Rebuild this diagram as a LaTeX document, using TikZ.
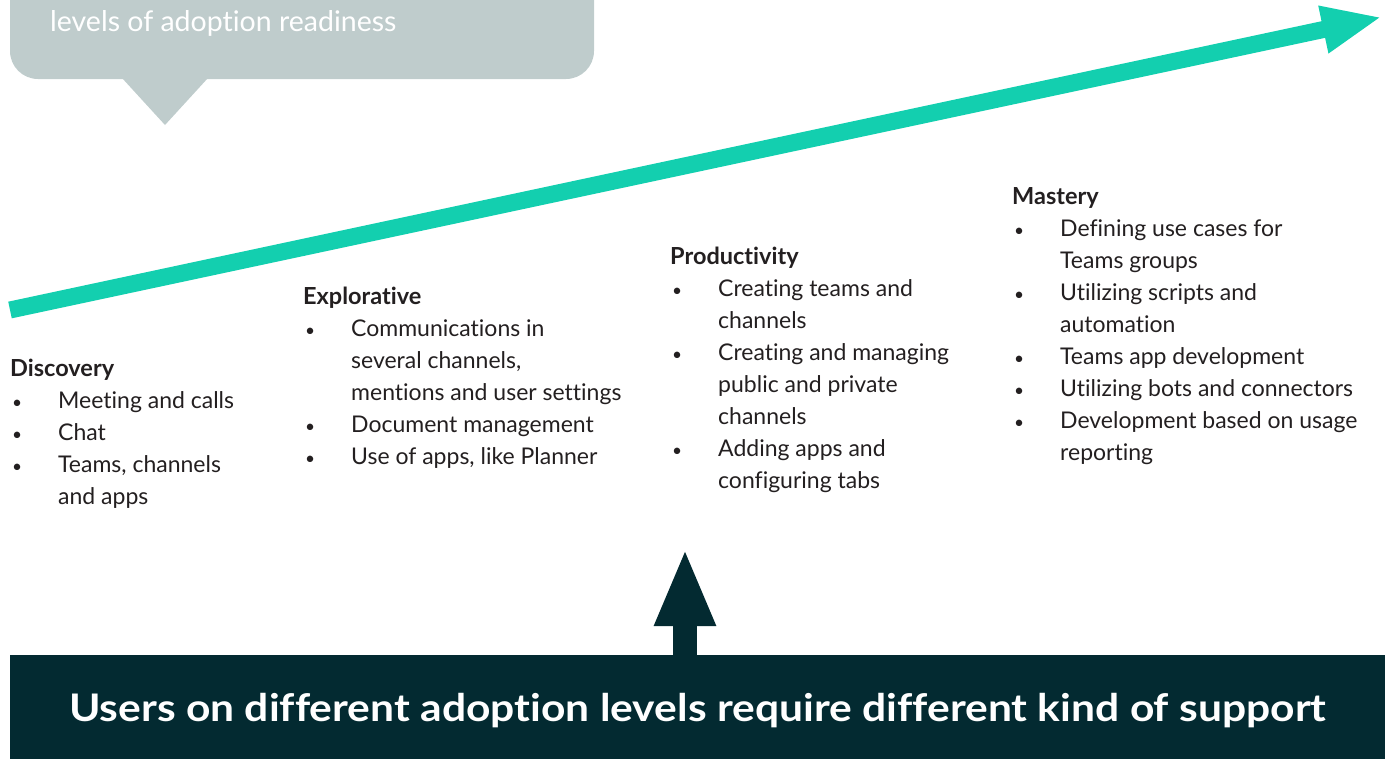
\documentclass[tikz,border=0pt]{standalone}
\usepackage{fontspec}
\setmainfont{Lato}[Ligatures={NoCommon,NoRare}]
\newfontfamily\barfont{Lato}[Ligatures={NoCommon,NoRare},FakeStretch=1.12]
\usetikzlibrary{arrows.meta}

\definecolor{trendgreen}{HTML}{13CFAF}
\definecolor{bardark}{HTML}{032A31}
\definecolor{bubblegray}{HTML}{BFCCCC}
\definecolor{txtgray}{HTML}{231F20}

\newcommand\bul{\makebox[48pt][l]{\hspace{2pt}\scalebox{0.75}{\textbullet}}}
\newcommand\ind{\hspace*{48pt}}
\newcommand\hd[1]{{\fontsize{23.5}{32}\selectfont\bfseries #1}}

\begin{document}
\begin{tikzpicture}[x=1pt,y=-1pt]

      \useasboundingbox (0,0) rectangle (1390,758);

      \fill[bubblegray, rounded corners=28pt] (10,-40) rectangle (594,79);
      \fill[bubblegray] (122,78) -- (208,78) -- (165,125) -- cycle;
      \node (bubble) [anchor=base west, inner sep=0, text=white,
        font=\fontsize{28.5}{32}\selectfont] at (50,31) {levels of adoption readiness};

      \coordinate (trendstart) at (10,310);
      \coordinate (trendtip)   at (1382,17);
      \draw[trendgreen, line width=17pt, -{Triangle[length=60pt,width=44pt]}]
        (trendstart) -- (trendtip);

      \begin{scope}[every node/.style={anchor=north west, align=left, inner sep=0,
          text=txtgray, font=\fontsize{23}{32}\selectfont}]
        \node (disc) at (10,352)  {\rule{0pt}{24pt}\hd{Discovery}\\
          \bul Meeting and calls\\
          \bul Chat\\
          \bul Teams, channels\\
          \ind and apps};
        \node (expl) at (303,280) {\rule{0pt}{24pt}\hd{Explorative}\\
          \bul Communications in\\
          \ind several channels,\\
          \ind mentions and user settings\\
          \bul Document management\\
          \bul Use of apps, like Planner};
        \node (prod) at (670,240) {\rule{0pt}{24pt}\hd{Productivity}\\
          \bul Creating teams and\\
          \ind channels\\
          \bul Creating and managing\\
          \ind public and private\\
          \ind channels\\
          \bul Adding apps and\\
          \ind configuring tabs};
        \node (mast) at (1012,180) {\rule{0pt}{24pt}\hd{Mastery}\\
          \bul Defining use cases for\\
          \ind Teams groups\\
          \bul Utilizing scripts and\\
          \ind automation\\
          \bul Teams app development\\
          \bul Utilizing bots and connectors\\
          \bul Development based on usage\\
          \ind reporting};
      \end{scope}

      \node (bar) [anchor=north west, fill=bardark, text=white, inner sep=0,
        minimum width=1375pt, minimum height=110pt,
        font=\barfont\fontsize{38}{40}\selectfont\bfseries] at (10,655)
        {Users on different adoption levels require different kind of support};

      \coordinate (uptip) at (685,548);
      \draw[bardark, line width=24pt, -{Triangle[length=78pt,width=56pt]}]
        (bar.north -| uptip) -- (uptip);

    \end{tikzpicture}
\end{document}
